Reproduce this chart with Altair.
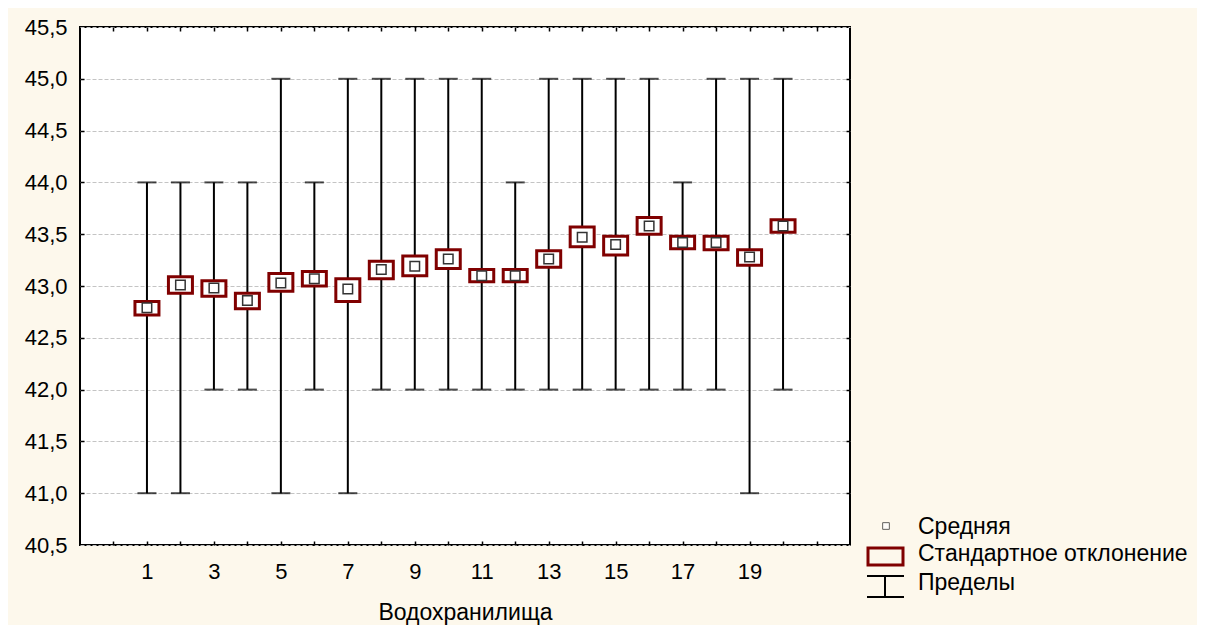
import altair as alt
import pandas as pd

# ---- data ----
reservoir = list(range(1, 21))
mean_val = [42.79, 43.01, 42.98, 42.86, 43.03, 43.07, 42.97, 43.16, 43.19, 43.26,
            43.10, 43.10, 43.26, 43.47, 43.40, 43.58, 43.42, 43.42, 43.28, 43.58]
sd_low = [42.72, 42.93, 42.90, 42.78, 42.95, 43.00, 42.85, 43.07, 43.10, 43.17,
          43.04, 43.04, 43.18, 43.38, 43.30, 43.50, 43.36, 43.35, 43.20, 43.52]
sd_high = [42.85, 43.09, 43.05, 42.93, 43.12, 43.14, 43.07, 43.24, 43.29, 43.35,
           43.16, 43.16, 43.34, 43.57, 43.48, 43.66, 43.48, 43.48, 43.35, 43.64]
lim_min = [41, 41, 42, 42, 41, 42, 41, 42, 42, 42,
           42, 42, 42, 42, 42, 42, 42, 42, 41, 42]
lim_max = [44, 44, 44, 44, 45, 44, 45, 45, 45, 45,
           45, 44, 45, 45, 45, 45, 44, 45, 45, 45]
x_label_values = [1, 3, 5, 7, 9, 11, 13, 15, 17, 19]
x_tick_values = list(range(0, 22))
y_values = [40.5, 41.0, 41.5, 42.0, 42.5, 43.0, 43.5, 44.0, 44.5, 45.0, 45.5]
legend_labels = ["Средняя", "Стандартное отклонение", "Пределы"]
x_title = "Водохранилища"

df = pd.DataFrame({
    "idx": reservoir, "mean": mean_val, "lo": sd_low, "hi": sd_high,
    "mn": lim_min, "mx": lim_max,
})

FONT = "Liberation Sans, Arial, sans-serif"
DARKRED = "#800000"
BG = "#fdf8ec"

xscale = alt.Scale(domain=[-1, 22], nice=False, zero=False, padding=0)
yscale = alt.Scale(domain=[40.5, 45.5], nice=False, zero=False, padding=0)
comma_expr = "replace(format(datum.value, '.1f'), '.', ',')"

# axes
x_label_axis = alt.Axis(values=x_label_values, ticks=False, tickSize=0, domain=False, grid=False,
                        labelFont=FONT, labelFontSize=22, labelColor="black", labelPadding=16,
                        title=x_title, titleFont=FONT, titleFontSize=23, titleFontWeight="normal",
                        titleColor="black", titlePadding=19)
y_label_axis = alt.Axis(values=y_values, ticks=False, tickSize=0, domain=False, grid=True,
                        gridColor="#c4c4c4", gridDash=[4, 2], gridWidth=1,
                        labelExpr=comma_expr, labelFont=FONT, labelFontSize=22,
                        labelColor="black", labelPadding=13, title=None)
x_tick_bottom = alt.Axis(values=x_tick_values, orient="bottom", offset=-4, tickSize=4, tickWidth=1.5,
                         tickColor="black", labels=False, domain=False, grid=False, title=None)
y_tick_left = alt.Axis(values=y_values[1:-1], orient="left", offset=-4, tickSize=4, tickWidth=1.5,
                       tickColor="black", labels=False, domain=False, grid=False, title=None)
x_tick_top = alt.Axis(values=x_tick_values, orient="top", offset=-4, tickSize=4, tickWidth=1.5,
                      tickColor="black", labels=False, domain=False, grid=False, title=None)
y_tick_right = alt.Axis(values=y_values[1:-1], orient="right", offset=-4, tickSize=4, tickWidth=1.5,
                        tickColor="black", labels=False, domain=False, grid=False, title=None)

base = alt.Chart(df)

whisker = base.mark_rule(color="black", strokeWidth=2).encode(
    x=alt.X("idx:Q", scale=xscale, axis=x_label_axis),
    y=alt.Y("mn:Q", scale=yscale, axis=y_label_axis),
    y2="mx:Q",
)

caps = base.transform_fold(["mn", "mx"], as_=["k", "v"]).mark_tick(
    orient="horizontal", color="black", size=19, thickness=2
).encode(
    x=alt.X("idx:Q", scale=xscale, axis=x_tick_bottom),
    y=alt.Y("v:Q", scale=yscale, axis=y_tick_left),
)

boxes = base.mark_bar(width=24, fill="white", stroke=DARKRED, strokeWidth=3).encode(
    x=alt.X("idx:Q", scale=xscale, axis=x_tick_top),
    y=alt.Y("lo:Q", scale=yscale, axis=y_tick_right),
    y2="hi:Q",
)

points = base.mark_point(shape="square", size=90, fill="white", filled=False,
                         stroke="#333333", strokeWidth=1.5, opacity=1).encode(
    x=alt.X("idx:Q", scale=xscale, axis=None),
    y=alt.Y("mean:Q", scale=yscale, axis=None),
)

# ---- legend (drawn manually) ----
one = pd.DataFrame({"a": [0]})
leg_sq = alt.Chart(one).mark_point(shape="square", size=45, fill="white", filled=False,
                                   stroke="#222222", strokeWidth=1).encode(
    x=alt.value(806), y=alt.value(499))
leg_rect = alt.Chart(one).mark_rect(fill=BG, stroke=DARKRED, strokeWidth=3).encode(
    x=alt.value(788), x2=alt.value(823), y=alt.value(521), y2=alt.value(538))
leg_stem = alt.Chart(one).mark_rule(color="black", strokeWidth=2).encode(
    x=alt.value(805), y=alt.value(549), y2=alt.value(570))
leg_top = alt.Chart(one).mark_rule(color="black", strokeWidth=2).encode(
    x=alt.value(787), x2=alt.value(824), y=alt.value(549))
leg_bot = alt.Chart(one).mark_rule(color="black", strokeWidth=2).encode(
    x=alt.value(787), x2=alt.value(824), y=alt.value(570))

leg_texts = []
for lab, yy in zip(legend_labels, [500, 527, 556]):
    leg_texts.append(
        alt.Chart(pd.DataFrame({"t": [lab]})).mark_text(
            align="left", baseline="middle", font=FONT, fontSize=23, color="black"
        ).encode(x=alt.value(838), y=alt.value(yy), text="t:N")
    )

chart = alt.layer(
    whisker, caps, boxes, points,
    leg_sq, leg_rect, leg_stem, leg_top, leg_bot, *leg_texts
).resolve_axis(x="independent", y="independent").properties(
    width=770, height=518,
    background=BG,
    padding={"left": 72, "top": 19, "right": 347, "bottom": 80},
    autosize=alt.AutoSizeParams(type="none"),
).configure_view(stroke="black", strokeWidth=2, fill="white")

chart.save("out.html", embed_options={"renderer": "svg", "actions": False})
